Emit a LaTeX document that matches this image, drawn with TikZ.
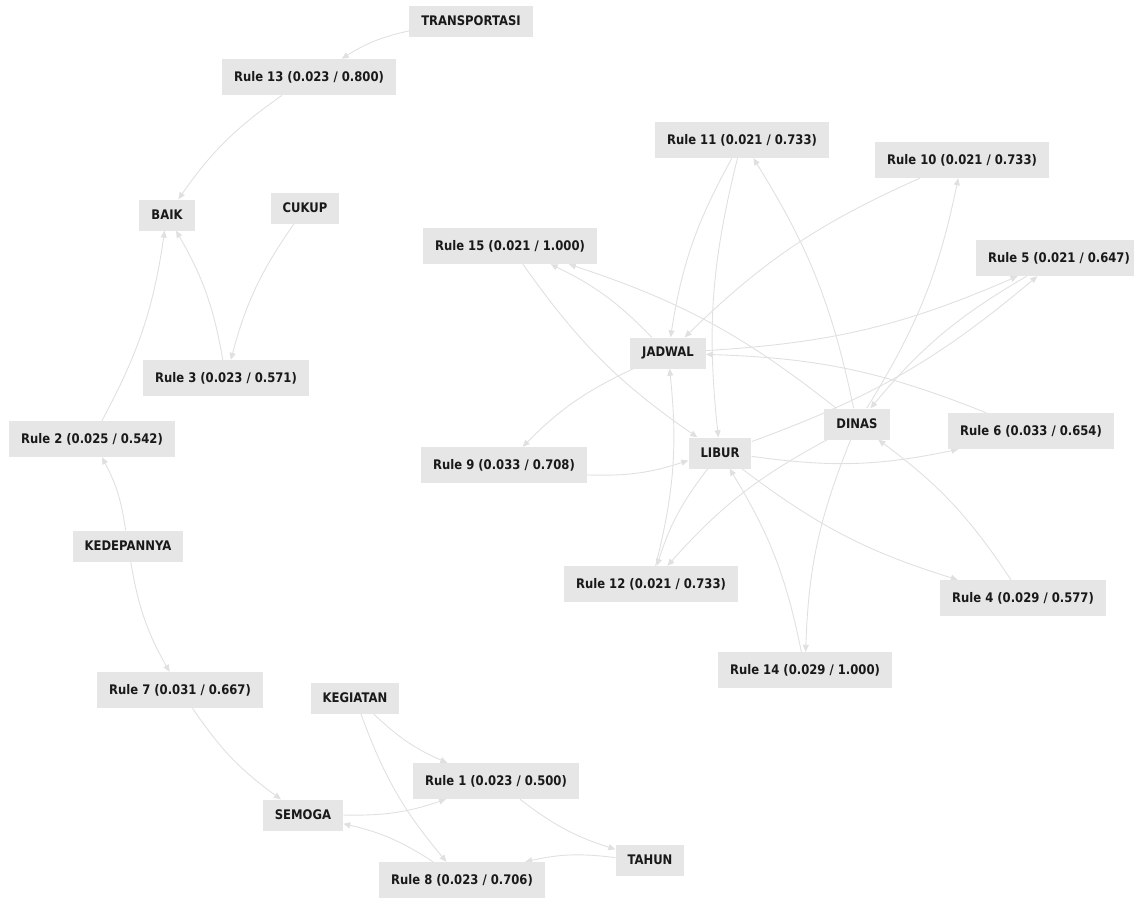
\documentclass[tikz,border=0pt]{standalone}
\usepackage{fontspec}
\setmainfont{DejaVu Sans}[FakeStretch=0.88]
\usetikzlibrary{arrows.meta}
\definecolor{boxgray}{RGB}{230,230,230}
\definecolor{edgegray}{RGB}{224,224,224}
\definecolor{txtcol}{RGB}{25,25,25}
\pgfdeclarelayer{bg}
\pgfsetlayers{bg,main}
\tikzset{
  box/.style={fill=boxgray, inner xsep=12pt, inner ysep=0pt, text=txtcol,
    font=\bfseries\fontsize{13.2}{15}\selectfont},
  itm/.style={box, minimum height=31pt},
  rul/.style={box, minimum height=36pt},
  link/.style={draw=edgegray, line width=0.9pt, -{Triangle[length=7pt,width=6pt]}},
}
\begin{document}
\begin{tikzpicture}[x=1pt,y=-1pt]
\useasboundingbox (0,0) rectangle (1134,898);
\clip (0,0) rectangle (1134,898);
\node[itm] (trans) at (471,21) {TRANSPORTASI};
\node[rul] (r13) at (309,77) {Rule 13 (0.023 / 0.800)};
\node[itm] (baik) at (167,215) {BAIK};
\node[itm] (cukup) at (305,208) {CUKUP};
\node[rul] (r3) at (226,378) {Rule 3 (0.023 / 0.571)};
\node[rul] (r2) at (92,439) {Rule 2 (0.025 / 0.542)};
\node[itm] (kede) at (128,546) {KEDEPANNYA};
\node[rul] (r7) at (180,690) {Rule 7 (0.031 / 0.667)};
\node[itm] (kegi) at (355,698) {KEGIATAN};
\node[rul] (r1) at (496,781) {Rule 1 (0.023 / 0.500)};
\node[itm] (semoga) at (303,815) {SEMOGA};
\node[itm] (tahun) at (650,860) {TAHUN};
\node[rul] (r8) at (462,880) {Rule 8 (0.023 / 0.706)};
\node[rul] (r11) at (742,140) {Rule 11 (0.021 / 0.733)};
\node[rul] (r10) at (962,160) {Rule 10 (0.021 / 0.733)};
\node[rul] (r15) at (510,246) {Rule 15 (0.021 / 1.000)};
\node[rul] (r5) at (1059,258) {Rule 5 (0.021 / 0.647)};
\node[itm] (jadwal) at (668,353) {JADWAL};
\node[itm] (dinas) at (857,424) {DINAS};
\node[rul] (r6) at (1031,431) {Rule 6 (0.033 / 0.654)};
\node[itm] (libur) at (720,453) {LIBUR};
\node[rul] (r9) at (504,465) {Rule 9 (0.033 / 0.708)};
\node[rul] (r12) at (651,584) {Rule 12 (0.021 / 0.733)};
\node[rul] (r4) at (1023,598) {Rule 4 (0.029 / 0.577)};
\node[rul] (r14) at (805,670) {Rule 14 (0.029 / 1.000)};
\begin{pgfonlayer}{bg}
\foreach \a/\b in {trans/r13, r13/baik, cukup/r3, r3/baik, r2/baik, kede/r2, kede/r7,
  r7/semoga, kegi/r1, kegi/r8, semoga/r1, r1/tahun, tahun/r8, r8/semoga,
  r11/jadwal, r11/libur, dinas/r11, r10/jadwal, dinas/r10, jadwal/r15, dinas/r15,
  r15/libur, jadwal/r5, libur/r5, r5/dinas, r6/jadwal, libur/r6, jadwal/r9, r9/libur,
  r12/jadwal, libur/r12, dinas/r12, libur/r4, r4/dinas, dinas/r14, r14/libur}
  \draw[link] (\a) to[bend right=10] (\b);
\end{pgfonlayer}
\end{tikzpicture}
\end{document}
